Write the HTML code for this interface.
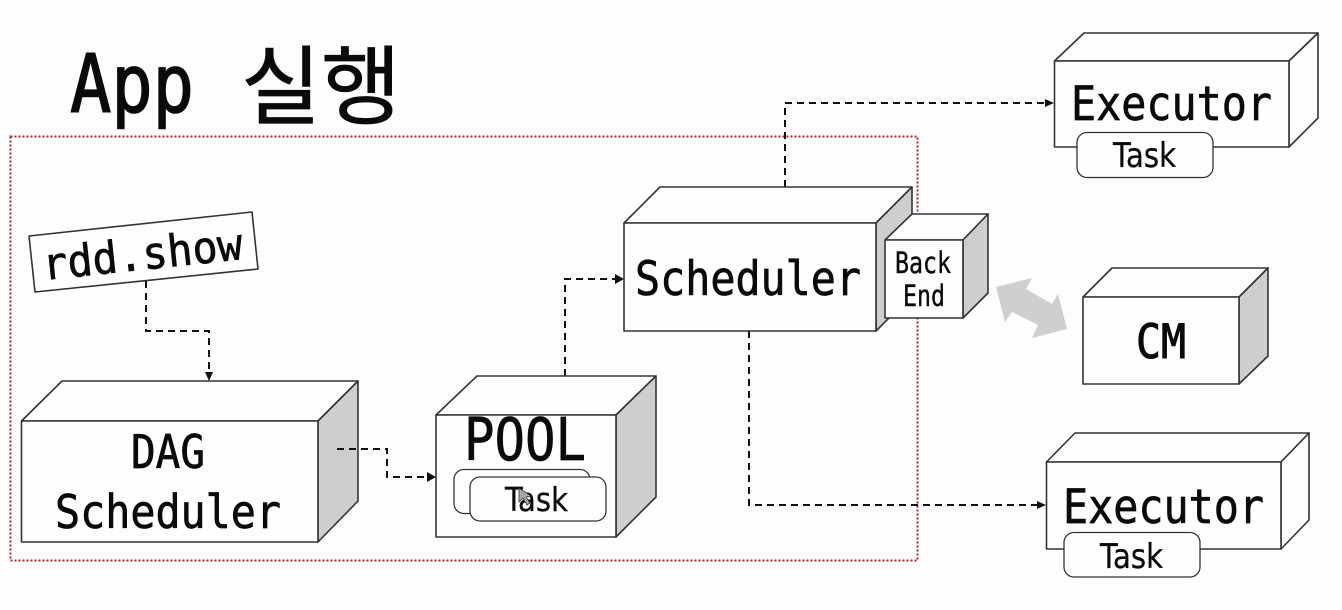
<!DOCTYPE html>
<html><head><meta charset="utf-8"><style>
html,body{margin:0;padding:0;background:#fdfdfd;width:1342px;height:610px;overflow:hidden}
svg{display:block}
.m{font-family:"DejaVu Sans Mono","Liberation Mono",monospace;fill:#0a0a0a;stroke:#0a0a0a;stroke-width:.7}
.s{font-family:"DejaVu Sans","Liberation Sans",sans-serif;fill:#0a0a0a;stroke:#0a0a0a;stroke-width:.3}
.b{stroke:#333;stroke-width:1.6;stroke-linejoin:round}
.d{fill:none;stroke:#111;stroke-width:2;stroke-dasharray:7 5}
</style></head><body>
<svg width="1342" height="610" viewBox="0 0 1342 610" xmlns="http://www.w3.org/2000/svg">
<rect x="0" y="0" width="1342" height="610" fill="#fdfdfd"/>
<text class="m" x="70" y="112" font-size="80" textLength="124" lengthAdjust="spacingAndGlyphs" style="stroke-width:1.500">App</text>
<text x="241" y="117" font-size="86" style="font-family:'Noto Sans CJK KR','NanumGothic',sans-serif;stroke:#0a0a0a;stroke-width:.8" fill="#0a0a0a" font-weight="400" textLength="160" lengthAdjust="spacingAndGlyphs">실행</text>
<rect x="10.500" y="136.500" width="907" height="424" fill="none" stroke="#a82a2a" stroke-width="2" stroke-dasharray="2 2"/>

<polygon class="b" points="29,236 252,212 258,269 35,292" fill="#fefefe" stroke="#222"/>
<text class="m" transform="translate(44,280) rotate(-6)" font-size="44" textLength="201" lengthAdjust="spacingAndGlyphs">rdd.show</text>

<path class="d" d="M146,281V331H209V374"/>
<polygon points="205,372 213,372 209,381" fill="#111"/>
<path class="d" d="M337,449H387V477H428"/>
<polygon points="427,472 427,482 436,477" fill="#111"/>
<path class="d" d="M565,376V279H616"/>
<polygon points="615,274 615,284 624,279" fill="#111"/>
<path class="d" d="M785,187V103H1046"/>
<polygon points="1045,99 1045,107 1054,103" fill="#111"/>
<path class="d" d="M749,331V505H1038"/>
<polygon points="1037,501 1037,509 1046,505" fill="#111"/>

<!-- DAG -->
<polygon class="b" points="21.500,421 62,381 358,381 318,421" fill="#fefefe"/>
<polygon class="b" points="318,421 358,381 358,501 318,542" fill="#cdcfcd"/>
<rect class="b" x="21.500" y="421" width="296.500" height="121" fill="#fefefe"/>
<text class="m" x="131" y="468" font-size="46" textLength="74" lengthAdjust="spacingAndGlyphs">DAG</text>
<text class="m" x="55" y="528" font-size="46" textLength="226" lengthAdjust="spacingAndGlyphs">Scheduler</text>
<path d="M337,449H358" stroke="#111" stroke-width="2" stroke-dasharray="7 5" fill="none"/>

<!-- POOL -->
<polygon class="b" points="436,415 477,376 656,376 616,415" fill="#fefefe"/>
<polygon class="b" points="616,415 656,376 656,497 616,537" fill="#cdcfcd"/>
<rect class="b" x="436" y="415" width="180" height="122" fill="#fefefe"/>
<text class="m" x="464" y="460" font-size="59" textLength="122" lengthAdjust="spacingAndGlyphs">POOL</text>
<rect x="454" y="469.500" width="136" height="44" rx="10" fill="#fefefe" stroke="#333" stroke-width="1.300"/>
<rect x="470" y="477" width="136" height="44" rx="10" fill="#fefefe" stroke="#333" stroke-width="1.300"/>
<text class="s" x="505" y="511" font-size="33" textLength="63" lengthAdjust="spacingAndGlyphs">Task</text>
<polygon points="519,488 519,502 523,498 527,505 530,503 526,497 531,496" fill="#aaa" stroke="#333" stroke-width="0.800"/>

<!-- Scheduler -->
<polygon class="b" points="624,223 660,187 912,187 876,223" fill="#fefefe"/>
<polygon class="b" points="876,223 912,187 912,295 876,331" fill="#cdcfcd"/>
<rect class="b" x="624" y="223" width="252" height="108" fill="#fefefe"/>
<text class="m" x="635" y="295" font-size="47" textLength="226" lengthAdjust="spacingAndGlyphs">Scheduler</text>

<!-- Back End -->
<polygon class="b" points="885,240 912,214 988,214 963,240" fill="#fefefe"/>
<polygon class="b" points="963,240 988,214 988,293 963,318" fill="#cdcfcd"/>
<rect class="b" x="885" y="240" width="78" height="78" fill="#fefefe"/>
<text class="m" x="895" y="273" font-size="29" textLength="56" lengthAdjust="spacingAndGlyphs" style="stroke-width:.4">Back</text>
<text class="m" x="903" y="306" font-size="29" textLength="42" lengthAdjust="spacingAndGlyphs" style="stroke-width:.4">End</text>

<!-- double arrow -->
<polygon points="996,287 1032,278 1026,289 1052,304 1058,294 1067,329 1032,338 1038,325 1012,312 1005,322" fill="#cfd0ce"/>

<!-- CM -->
<polygon class="b" points="1083,297 1112,268 1268,268 1239,297" fill="#fefefe"/>
<polygon class="b" points="1239,297 1268,268 1268,356 1239,384" fill="#cdcfcd"/>
<rect class="b" x="1083" y="297" width="156" height="87" fill="#fefefe"/>
<text class="m" x="1136" y="358" font-size="47" textLength="50" lengthAdjust="spacingAndGlyphs" style="stroke-width:1">CM</text>

<!-- Executor 1 -->
<polygon class="b" points="1054.500,61 1084,33 1318,33 1289,61" fill="#fefefe"/>
<polygon class="b" points="1289,61 1318,33 1318,118 1289,147" fill="#fefefe"/>
<rect class="b" x="1054.500" y="61" width="234.500" height="86" fill="#fefefe"/>
<text class="m" x="1071" y="120" font-size="47" textLength="201" lengthAdjust="spacingAndGlyphs">Executor</text>
<rect x="1077" y="132.500" width="136" height="45" rx="10" fill="#fefefe" stroke="#333" stroke-width="1.300"/>
<text class="s" x="1113" y="167" font-size="34" textLength="63" lengthAdjust="spacingAndGlyphs">Task</text>

<!-- Executor 2 -->
<polygon class="b" points="1046.500,462 1075,433 1309,433 1281,462" fill="#fefefe"/>
<polygon class="b" points="1281,462 1309,433 1309,520 1281,549" fill="#fefefe"/>
<rect class="b" x="1046.500" y="462" width="234.500" height="87" fill="#fefefe"/>
<text class="m" x="1063" y="523" font-size="47" textLength="201" lengthAdjust="spacingAndGlyphs">Executor</text>
<rect x="1064" y="532.500" width="136" height="44.500" rx="10" fill="#fefefe" stroke="#333" stroke-width="1.300"/>
<text class="s" x="1100" y="568" font-size="34" textLength="63" lengthAdjust="spacingAndGlyphs">Task</text>
</svg>
</body></html>
